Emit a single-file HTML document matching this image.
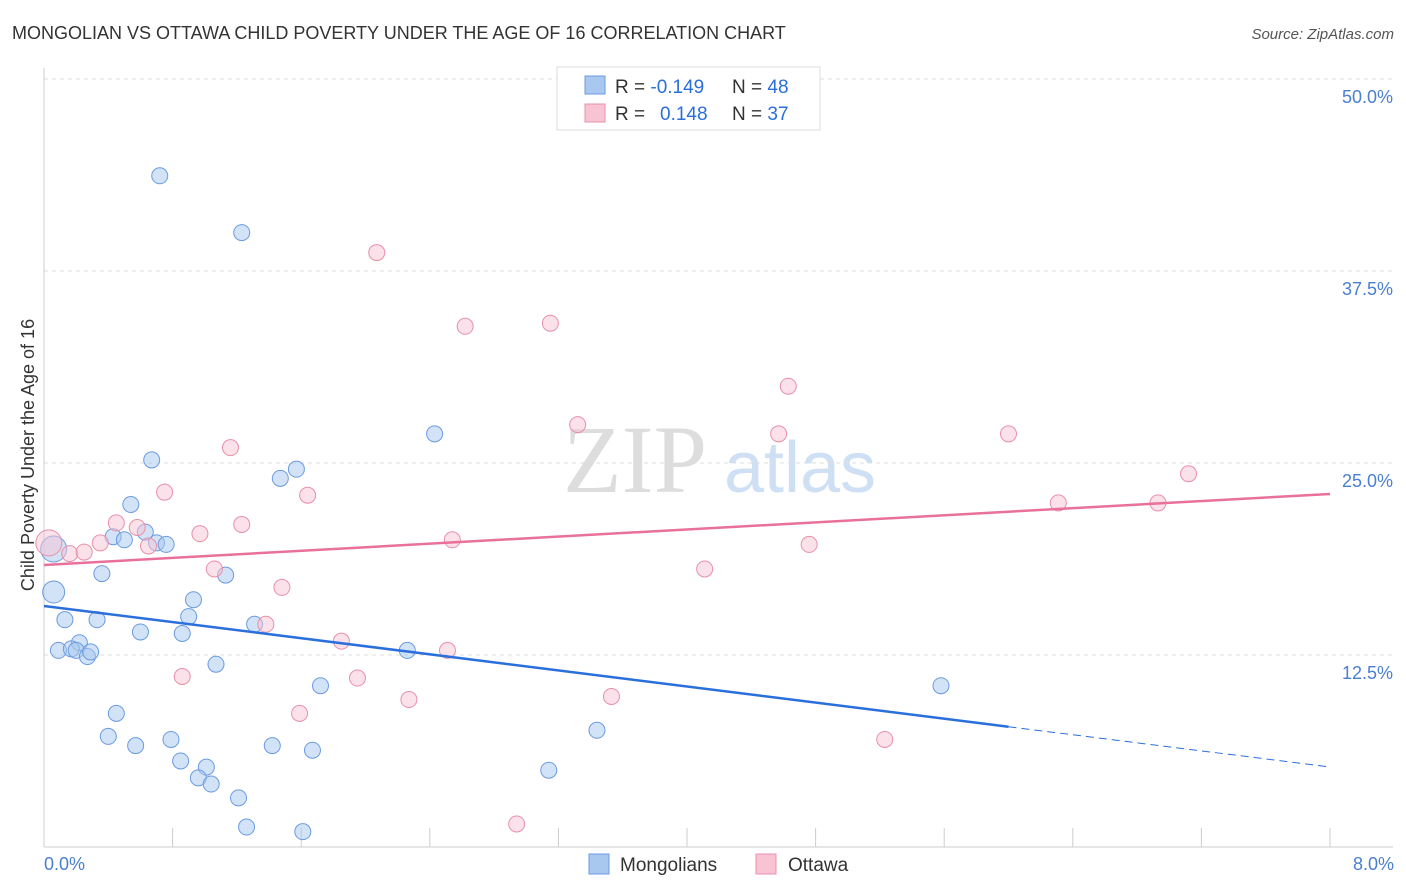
<!DOCTYPE html>
<html><head><meta charset="utf-8">
<style>
body{margin:0;background:#fff;font-family:"Liberation Sans",sans-serif;}
svg{display:block}
</style></head>
<body>
<svg id="chart" width="1406" height="892">
<text x="12" y="39" font-size="18" fill="#333">MONGOLIAN VS OTTAWA CHILD POVERTY UNDER THE AGE OF 16 CORRELATION CHART</text>
<text x="1394" y="39" font-size="15" fill="#555" font-style="italic" text-anchor="end">Source: ZipAtlas.com</text>
<text x="635" y="492" font-size="96" fill="#ddd" font-family="Liberation Serif,serif" text-anchor="middle">ZIP</text>
<text x="800" y="492" font-size="72" fill="#cfe0f5" text-anchor="middle">atlas</text>
<text transform="translate(34,455) rotate(-90)" font-size="18" fill="#333" text-anchor="middle">Child Poverty Under the Age of 16</text>
<g id="grid"></g><g id="marks"></g>
<g>
<rect x="557" y="67" width="263" height="63" fill="#fff" stroke="#ddd"/>
<rect x="585" y="76" width="20" height="18" fill="#a8c8f0" stroke="#6a9be0"/>
<rect x="585" y="104" width="20" height="18" fill="#f8c4d4" stroke="#e890a8"/>
<text x="615" y="93" font-size="19" fill="#333">R = <tspan fill="#2a6fdb">-0.149</tspan><tspan x="732">N = </tspan><tspan fill="#2a6fdb">48</tspan></text>
<text x="615" y="120" font-size="19" fill="#333">R = <tspan x="660" fill="#2a6fdb">0.148</tspan><tspan x="732">N = </tspan><tspan fill="#2a6fdb">37</tspan></text>
</g>
<g>
<rect x="589" y="854" width="20" height="20" fill="#a8c8f0" stroke="#6a9be0"/>
<text x="620" y="871" font-size="19" fill="#333">Mongolians</text>
<rect x="756" y="854" width="20" height="20" fill="#f8c4d4" stroke="#e890a8"/>
<text x="788" y="871" font-size="19" fill="#333">Ottawa</text>
</g>
</svg>
<script>
const yTicks=[12.5,25,37.5,50];
const yTickLabels=["12.5%","25.0%","37.5%","50.0%"];
const xTickLabels=["0.0%","8.0%"];
const blueX=[0.72,1.23,2.43,0.67,1.57,1.47,0.54,0.63,0.43,0.50,0.70,0.76,0.06,0.36,1.13,0.06,0.93,0.90,0.13,0.33,0.60,0.86,1.31,0.22,0.09,0.17,0.20,0.27,0.29,2.26,1.07,1.72,5.58,0.45,0.40,0.57,0.79,1.42,1.67,3.44,0.85,1.01,0.96,1.04,3.14,1.21,1.26,1.61];
const blueY=[43.7,40.0,26.9,25.2,24.6,24.0,22.3,20.5,20.2,20.0,19.8,19.7,19.4,17.8,17.7,16.6,16.1,15.0,14.8,14.8,14.0,13.9,14.5,13.3,12.8,12.9,12.8,12.4,12.7,12.8,11.9,10.5,10.5,8.7,7.2,6.6,7.0,6.6,6.3,7.6,5.6,5.2,4.5,4.1,5.0,3.2,1.3,1.0];
const blueSize=[8,8,8,8,8,8,8,8,8,8,8,8,13,8,8,11,8,8,8,8,8,8,8,8,8,8,8,8,8,8,8,8,8,8,8,8,8,8,8,8,8,8,8,8,8,8,8,8];
const pinkX=[2.07,2.62,3.15,4.63,3.32,4.57,6.00,1.16,7.12,0.75,1.64,6.31,6.93,0.45,1.23,0.58,0.97,2.54,0.03,0.35,4.76,0.65,0.16,0.25,4.11,1.06,1.48,1.38,1.85,2.51,0.86,1.95,3.53,2.27,1.59,5.23,2.94];
const pinkY=[38.7,33.9,34.1,30.0,27.5,26.9,26.9,26.0,24.3,23.1,22.9,22.4,22.4,21.1,21.0,20.8,20.4,20.0,19.8,19.8,19.7,19.6,19.1,19.2,18.1,18.1,16.9,14.5,13.4,12.8,11.1,11.0,9.8,9.6,8.7,7.0,1.5];
const pinkSize=[8,8,8,8,8,8,8,8,8,8,8,8,8,8,8,8,8,8,13,8,8,8,8,8,8,8,8,8,8,8,8,8,8,8,8,8,8];
const blueLine=[15.69,-1.31]; // intercept, slope per %
const blueSolidEnd=6.0;
const pinkLine=[18.36,0.578];
const X=v=>44+v*160.75, Y=v=>847-v*15.36;
const NS="http://www.w3.org/2000/svg";
function mk(t,a,p){const e=document.createElementNS(NS,t);for(const k in a)e.setAttribute(k,a[k]);p.appendChild(e);return e;}
const grid=document.getElementById('grid'), marks=document.getElementById('marks');
yTicks.forEach((t,i)=>{
 const l=mk('line',{x1:44,x2:1393,y1:Y(t),y2:Y(t),stroke:'#ddd','stroke-dasharray':'4,4'},grid);
 
 
 const tx=mk('text',{x:1393,y:Y(t)+24,'font-size':18,fill:'#4a7fd0','text-anchor':'end'},grid);
 tx.textContent=yTickLabels[i];
 
 
});
const ax=mk('line',{x1:44,x2:44,y1:68,y2:847,stroke:'#ccc'},grid);


const bx=mk('line',{x1:44,x2:1393,y1:847,y2:847,stroke:'#ccc'},grid);


for(let i=0;i<=10;i++){const t=mk('line',{x1:X(i*0.8),x2:X(i*0.8),y1:828,y2:847,stroke:'#ccc'},grid);
 
 }
[[0,'start',44],[8,'end',1394]].forEach((d,i)=>{const t=mk('text',{x:d[2],y:870,'font-size':18,fill:'#4a7fd0','text-anchor':d[1]},grid);t.textContent=xTickLabels[i];
 
 });
function dots(xs,ys,ss,fill,stroke,name){xs.forEach((x,i)=>{const c=mk('circle',{cx:X(x),cy:Y(ys[i]),r:ss[i],fill:fill,'fill-opacity':0.5,stroke:stroke,'stroke-width':1},marks);
 
 });}
dots(blueX,blueY,blueSize,'#a8c8f0','#6a9be0','mongolian-point');
dots(pinkX,pinkY,pinkSize,'#f8c4d4','#e890a8','ottawa-point');
const f=(l,x)=>l[0]+l[1]*x;
const bl=mk('line',{x1:X(0),y1:Y(f(blueLine,0)),x2:X(blueSolidEnd),y2:Y(f(blueLine,blueSolidEnd)),stroke:'#2a6fdb','stroke-width':2.5},marks);


const bd=mk('line',{x1:X(blueSolidEnd),y1:Y(f(blueLine,blueSolidEnd)),x2:X(8),y2:Y(f(blueLine,8)),stroke:'#2a6fdb','stroke-width':1,'stroke-dasharray':'8,5'},marks);


const pl=mk('line',{x1:X(0),y1:Y(f(pinkLine,0)),x2:X(8),y2:Y(f(pinkLine,8)),stroke:'#e8709a','stroke-width':2.5},marks);


</script>
</body></html>
